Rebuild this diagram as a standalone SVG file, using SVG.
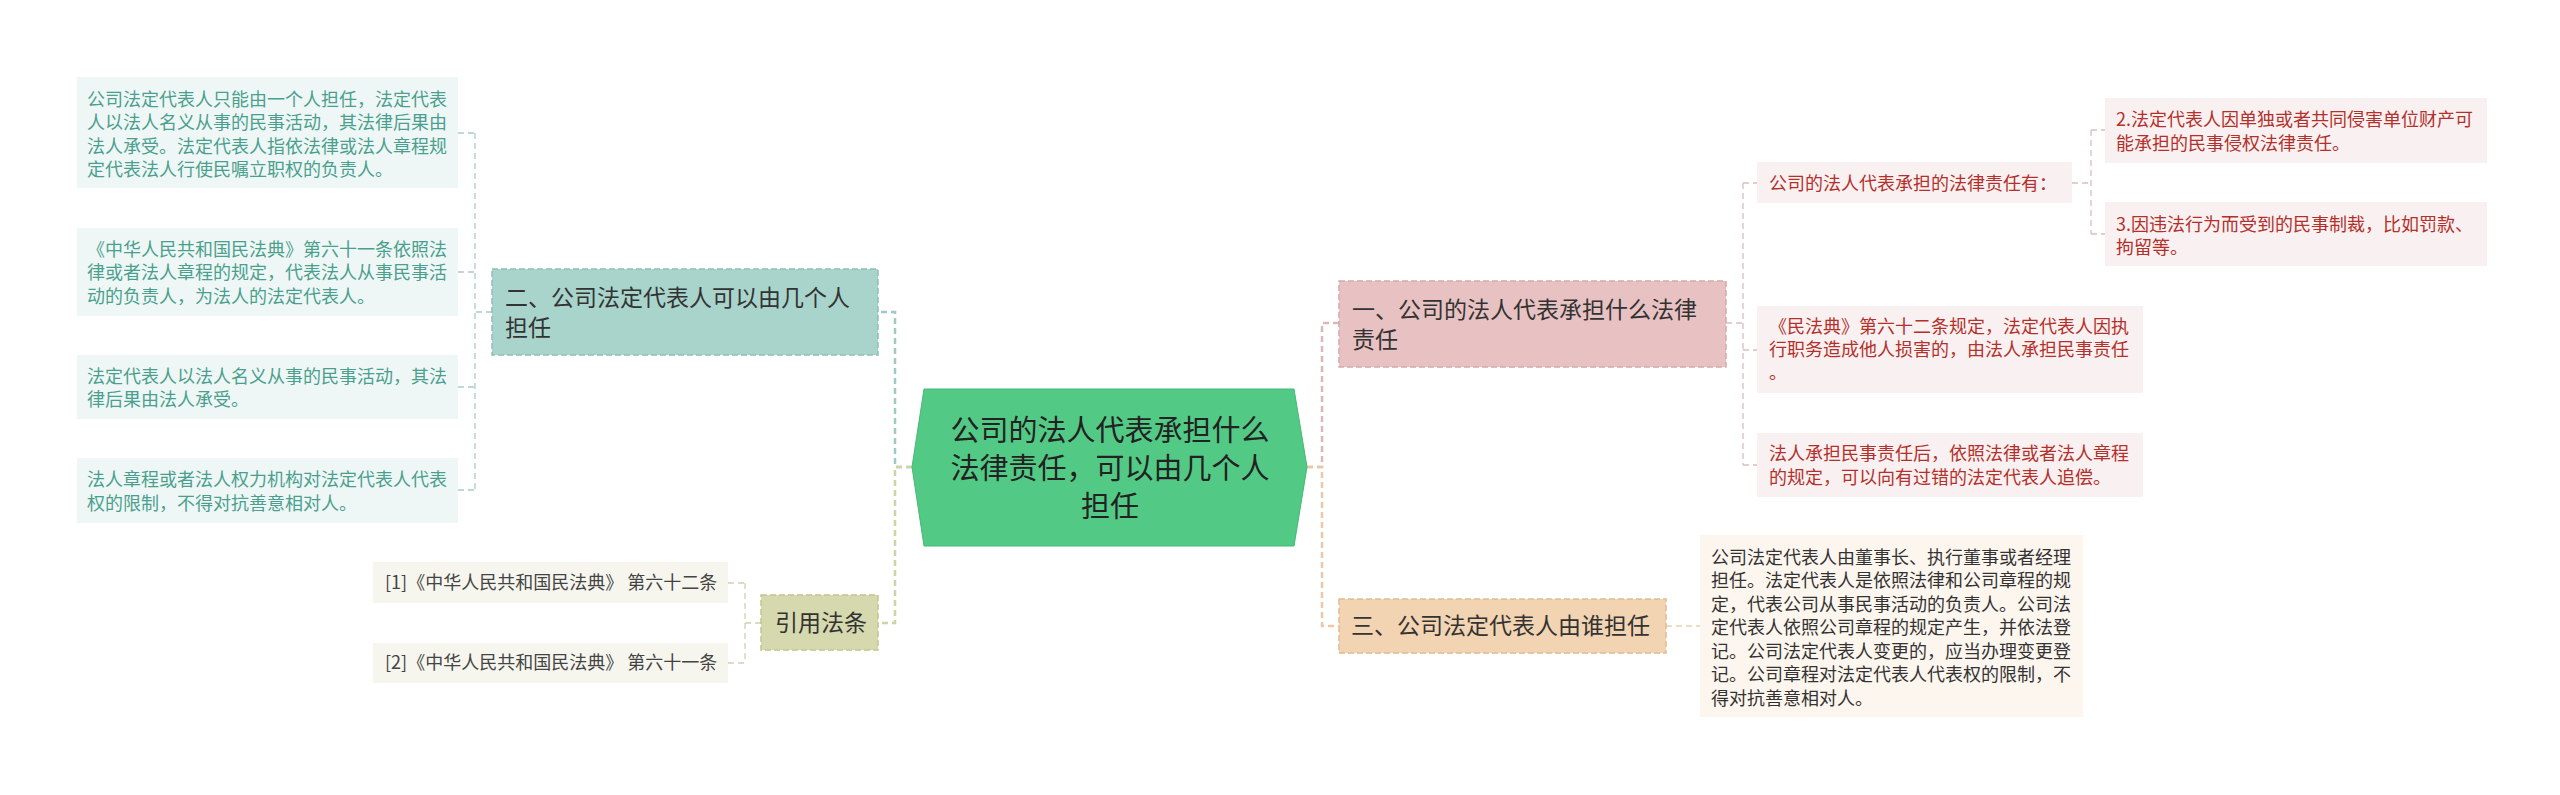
<svg xmlns="http://www.w3.org/2000/svg" width="2560" height="795" viewBox="0 0 2560 795">
<style>
text{font-family:"Noto Sans CJK SC","Noto Sans",sans-serif;}
.t18{font-size:18px;}
.t23{font-size:23px;fill:#333;}
.tc{font-size:29px;fill:#222;}
.teal{fill:#4b9f8e;}
.red{fill:#b3302b;}
.dark{fill:#444;}
.c{fill:none;stroke-dasharray:6 4;}
.main{stroke-width:2.5;}
.sub{stroke-width:1.3;}
.bx{stroke-width:1.5;stroke-dasharray:6 3;}
</style>
<rect width="2560" height="795" fill="#fff"/>
<g id="connectors">
  <path class="c main" stroke="#9fcbc3" d="M912,467 H895 V312 H878"/>
  <path class="c main" stroke="#d0d3a5" d="M912,467 H895 V623 H878"/>
  <path class="c main" stroke="#dcb6b8" d="M1307,467 H1322 V323 H1339"/>
  <path class="c main" stroke="#ecc9a4" d="M1307,467 H1322 V626 H1339"/>
  <path class="c sub" stroke="#a9ccc5" d="M492,312 H475 M475,133 V490 M458,133 H475 M458,272 H475 M458,387 H475 M458,490 H475"/>
  <path class="c sub" stroke="#cfd1b5" d="M761,623 H745 M745,583 V663 M728,583 H745 M728,663 H745"/>
  <path class="c sub" stroke="#d9bfc0" d="M1726,323 H1743 M1743,183 V465 M1743,183 H1757 M1743,350 H1757 M1743,465 H1757"/>
  <path class="c sub" stroke="#d9bfc0" d="M2072,183 H2091 M2091,130 V234 M2091,130 H2105 M2091,234 H2105"/>
  <path class="c sub" stroke="#e9cfb3" d="M1666,626 H1700"/>
</g>
<g id="center">
  <polygon points="912,467 924,389 1294,389 1307,467 1294,546 924,546" fill="#52c985" stroke="#47b877" stroke-width="1"/>
  <text class="tc" x="1110" y="441" text-anchor="middle">公司的法人代表承担什么</text>
  <text class="tc" x="1110" y="479" text-anchor="middle">法律责任，可以由几个人</text>
  <text class="tc" x="1110" y="517" text-anchor="middle">担任</text>
</g>
<g id="branch2">
  <rect class="bx" x="492" y="269" width="386" height="86" fill="#a9d4cc" stroke="#8fbfb6"/>
  <text class="t23" x="505" y="306">二、公司法定代表人可以由几个人</text>
  <text class="t23" x="505" y="336">担任</text>
</g>
<g id="b2c1">
  <rect x="77" y="77" width="381" height="111" fill="#eef7f5"/>
  <text class="t18 teal" x="87" y="105.5">公司法定代表人只能由一个人担任，法定代表</text>
  <text class="t18 teal" x="87" y="129">人以法人名义从事的民事活动，其法律后果由</text>
  <text class="t18 teal" x="87" y="152.5">法人承受。法定代表人指依法律或法人章程规</text>
  <text class="t18 teal" x="87" y="176">定代表法人行使民嘱立职权的负责人。</text>
</g>
<g id="b2c2">
  <rect x="77" y="228" width="381" height="88" fill="#eef7f5"/>
  <text class="t18 teal" x="87" y="255.5">《中华人民共和国民法典》第六十一条依照法</text>
  <text class="t18 teal" x="87" y="279">律或者法人章程的规定，代表法人从事民事活</text>
  <text class="t18 teal" x="87" y="302.5">动的负责人，为法人的法定代表人。</text>
</g>
<g id="b2c3">
  <rect x="77" y="355" width="381" height="64" fill="#eef7f5"/>
  <text class="t18 teal" x="87" y="382.5">法定代表人以法人名义从事的民事活动，其法</text>
  <text class="t18 teal" x="87" y="405.5">律后果由法人承受。</text>
</g>
<g id="b2c4">
  <rect x="77" y="458" width="381" height="65" fill="#eef7f5"/>
  <text class="t18 teal" x="87" y="485.5">法人章程或者法人权力机构对法定代表人代表</text>
  <text class="t18 teal" x="87" y="509.5">权的限制，不得对抗善意相对人。</text>
</g>
<g id="refs">
  <rect class="bx" x="761" y="595" width="117" height="55" fill="#d6d9ae" stroke="#c2c68f"/>
  <text class="t23" x="775" y="631">引用法条</text>
</g>
<g id="ref1">
  <rect x="373" y="562" width="355" height="41" fill="#f6f6ef"/>
  <text class="t18 dark" x="385" y="589">[1]《中华人民共和国民法典》 第六十二条</text>
</g>
<g id="ref2">
  <rect x="373" y="643" width="355" height="40" fill="#f6f6ef"/>
  <text class="t18 dark" x="385" y="669">[2]《中华人民共和国民法典》 第六十一条</text>
</g>
<g id="branch1">
  <rect class="bx" x="1339" y="281" width="387" height="86" fill="#e8c2c2" stroke="#d6a9aa"/>
  <text class="t23" x="1352" y="318">一、公司的法人代表承担什么法律</text>
  <text class="t23" x="1352" y="348">责任</text>
</g>
<g id="b1c1">
  <rect x="1757" y="162" width="315" height="41" fill="#f9f1f1"/>
  <text class="t18 red" x="1769" y="189.5">公司的法人代表承担的法律责任有：</text>
</g>
<g id="b1c1a">
  <rect x="2105" y="98" width="382" height="65" fill="#f9f1f1"/>
  <text class="t18 red" x="2116" y="125.5">2.法定代表人因单独或者共同侵害单位财产可</text>
  <text class="t18 red" x="2116" y="149.5">能承担的民事侵权法律责任。</text>
</g>
<g id="b1c1b">
  <rect x="2105" y="202" width="382" height="64" fill="#f9f1f1"/>
  <text class="t18 red" x="2116" y="230.5">3.因违法行为而受到的民事制裁，比如罚款、</text>
  <text class="t18 red" x="2116" y="253.5">拘留等。</text>
</g>
<g id="b1c2">
  <rect x="1757" y="306" width="386" height="87" fill="#f9f1f1"/>
  <text class="t18 red" x="1769" y="332.5">《民法典》第六十二条规定，法定代表人因执</text>
  <text class="t18 red" x="1769" y="355.5">行职务造成他人损害的，由法人承担民事责任</text>
  <text class="t18 red" x="1769" y="379">。</text>
</g>
<g id="b1c3">
  <rect x="1757" y="433" width="386" height="64" fill="#f9f1f1"/>
  <text class="t18 red" x="1769" y="459.5">法人承担民事责任后，依照法律或者法人章程</text>
  <text class="t18 red" x="1769" y="483.5">的规定，可以向有过错的法定代表人追偿。</text>
</g>
<g id="branch3">
  <rect class="bx" x="1339" y="599" width="327" height="54" fill="#f2d3b2" stroke="#e2bb92"/>
  <text class="t23" x="1351" y="634">三、公司法定代表人由谁担任</text>
</g>
<g id="b3c1">
  <rect x="1700" y="535" width="383" height="182" fill="#fdf6ee"/>
  <text class="t18" fill="#333" x="1711" y="563.5">公司法定代表人由董事长、执行董事或者经理</text>
  <text class="t18" fill="#333" x="1711" y="587">担任。法定代表人是依照法律和公司章程的规</text>
  <text class="t18" fill="#333" x="1711" y="610.5">定，代表公司从事民事活动的负责人。公司法</text>
  <text class="t18" fill="#333" x="1711" y="634">定代表人依照公司章程的规定产生，并依法登</text>
  <text class="t18" fill="#333" x="1711" y="657.5">记。公司法定代表人变更的，应当办理变更登</text>
  <text class="t18" fill="#333" x="1711" y="681">记。公司章程对法定代表人代表权的限制，不</text>
  <text class="t18" fill="#333" x="1711" y="704.5">得对抗善意相对人。</text>
</g>
</svg>
